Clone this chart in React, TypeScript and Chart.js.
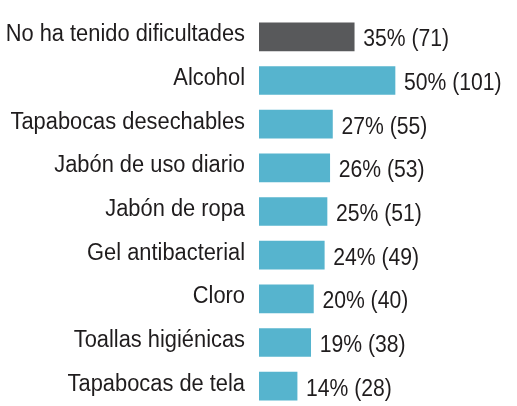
import React, { useEffect, useRef } from "react";
import { Chart, registerables } from "chart.js";

Chart.register(...registerables);

const categories = [
  "No ha tenido dificultades",
  "Alcohol",
  "Tapabocas desechables",
  "Jabón de uso diario",
  "Jabón de ropa",
  "Gel antibacterial",
  "Cloro",
  "Toallas higiénicas",
  "Tapabocas de tela",
];
const percents = [35, 50, 27, 26, 25, 24, 20, 19, 14];
const counts = [71, 101, 55, 53, 51, 49, 40, 38, 28];
const colors = ["#58595b", "#56b4ce", "#56b4ce", "#56b4ce", "#56b4ce", "#56b4ce", "#56b4ce", "#56b4ce", "#56b4ce"];

const FONT = "'Liberation Sans', Arial, sans-serif";
const TEXT_COLOR = "#1f1c1d";

// Draws condensed text (the reference uses a narrow Helvetica-like face)
function drawCondensed(ctx: CanvasRenderingContext2D, text: string, x: number, y: number, sx: number, align: "left" | "right") {
  ctx.save();
  ctx.translate(x, y);
  ctx.scale(sx, 1);
  ctx.textAlign = align;
  ctx.fillText(text, 0, 0);
  ctx.restore();
}

const textPlugin = {
  id: "condensedText",
  afterDatasetsDraw(chart: any) {
    const ctx = chart.ctx as CanvasRenderingContext2D;
    const yScale = chart.scales.y;
    const meta = chart.getDatasetMeta(0);
    ctx.save();
    ctx.font = `23.5px ${FONT}`;
    ctx.fillStyle = TEXT_COLOR;
    ctx.textBaseline = "alphabetic";
    const labels = chart.data.labels as string[];
    labels.forEach((lab, i) => {
      const y = yScale.getPixelForTick(i);
      drawCondensed(ctx, lab, chart.chartArea.left - 14, y + 4.5, 0.93, "right");
    });
    meta.data.forEach((bar: any, i: number) => {
      drawCondensed(ctx, `${percents[i]}% (${counts[i]})`, bar.x + 9, bar.y + 9.5, 0.9, "left");
    });
    ctx.restore();
  },
};

export default function App() {
  const ref = useRef<HTMLCanvasElement>(null);
  useEffect(() => {
    if (!ref.current) return;
    const chart = new Chart(ref.current, {
      type: "bar",
      data: {
        labels: categories,
        datasets: [
          {
            data: percents,
            backgroundColor: colors,
            barThickness: 28,
            borderWidth: 0,
          },
        ],
      },
      options: {
        indexAxis: "y",
        animation: false,
        responsive: false,
        maintainAspectRatio: false,
        layout: { padding: { top: 15, bottom: 0, left: 0, right: 0 } },
        plugins: { legend: { display: false }, tooltip: { enabled: false } },
        scales: {
          x: { display: false, min: 0, max: 94.85 },
          y: {
            afterFit: (s: any) => {
              s.width = 259;
              s.paddingTop = 0;
              s.paddingBottom = 0;
            },
            grid: { display: false, drawTicks: false },
            border: { display: false },
            ticks: { display: false },
          },
        },
      },
      plugins: [textPlugin],
    });
    return () => chart.destroy();
  }, []);
  return (
    <div style={{ position: "fixed", left: 0, top: 0, width: 517, height: 406, overflow: "hidden", background: "#fff" }}>
      <canvas ref={ref} width={517} height={408} style={{ width: 517, height: 408, display: "block" }} />
    </div>
  );
}
